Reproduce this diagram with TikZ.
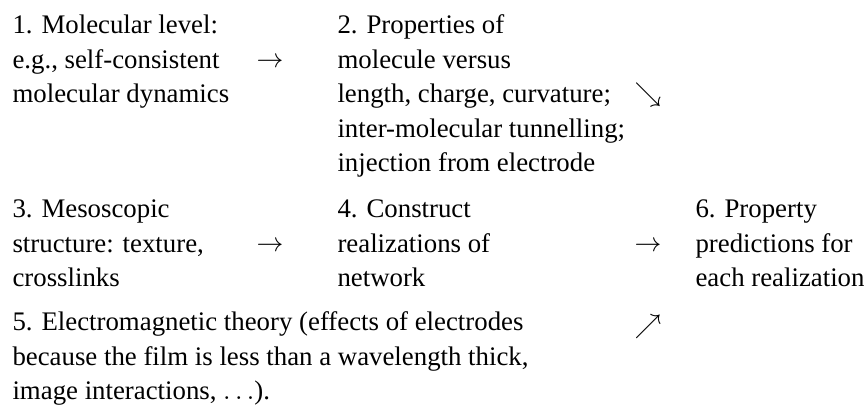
\documentclass[tikz,border=0pt]{standalone}
\usepackage{fontspec}
\setmainfont{Liberation Serif}
\begin{document}
\begin{tikzpicture}[x=0.373pt,y=-0.373pt,
  txt/.style={anchor=north west,inner sep=0pt,align=left,font=\fontsize{10}{12.9}\selectfont},
  glyph/.style={anchor=base west,inner sep=0pt,font=\fontsize{10}{12.9}\selectfont}]
\useasboundingbox (0,0) rectangle (865,407);
% first baseline y -> north y = y - 24.2
\node[txt] (n1) at (12,8.8) {\strut 1. Molecular level:\\e.g., self-consistent\\molecular dynamics};
\node[txt] (n2) at (337,8.8) {\strut 2. Properties of\\molecule versus\\length, charge, curvature;\\inter-molecular tunnelling;\\injection from electrode};
\node[txt] (n3) at (12,192.8) {\strut 3. Mesoscopic\\structure: texture,\\crosslinks};
\node[txt] (n4) at (337,192.8) {\strut 4. Construct\\realizations of\\network};
\node[txt] (n6) at (695,192.8) {\strut 6. Property\\predictions for\\each realization};
\node[txt] (n5) at (12,305.8) {\strut 5. Electromagnetic theory (effects of electrodes\\because the film is less than a wavelength thick,\\image interactions, $\ldots$).};
\node[glyph] (a12) at (256,68) {$\rightarrow$};
\node[glyph] (a26) at (634,102) {$\searrow$};
\node[glyph] (a34) at (256,252) {$\rightarrow$};
\node[glyph] (a46) at (634,252) {$\rightarrow$};
\node[glyph] (a56) at (634,334) {$\nearrow$};
\end{tikzpicture}
\end{document}
